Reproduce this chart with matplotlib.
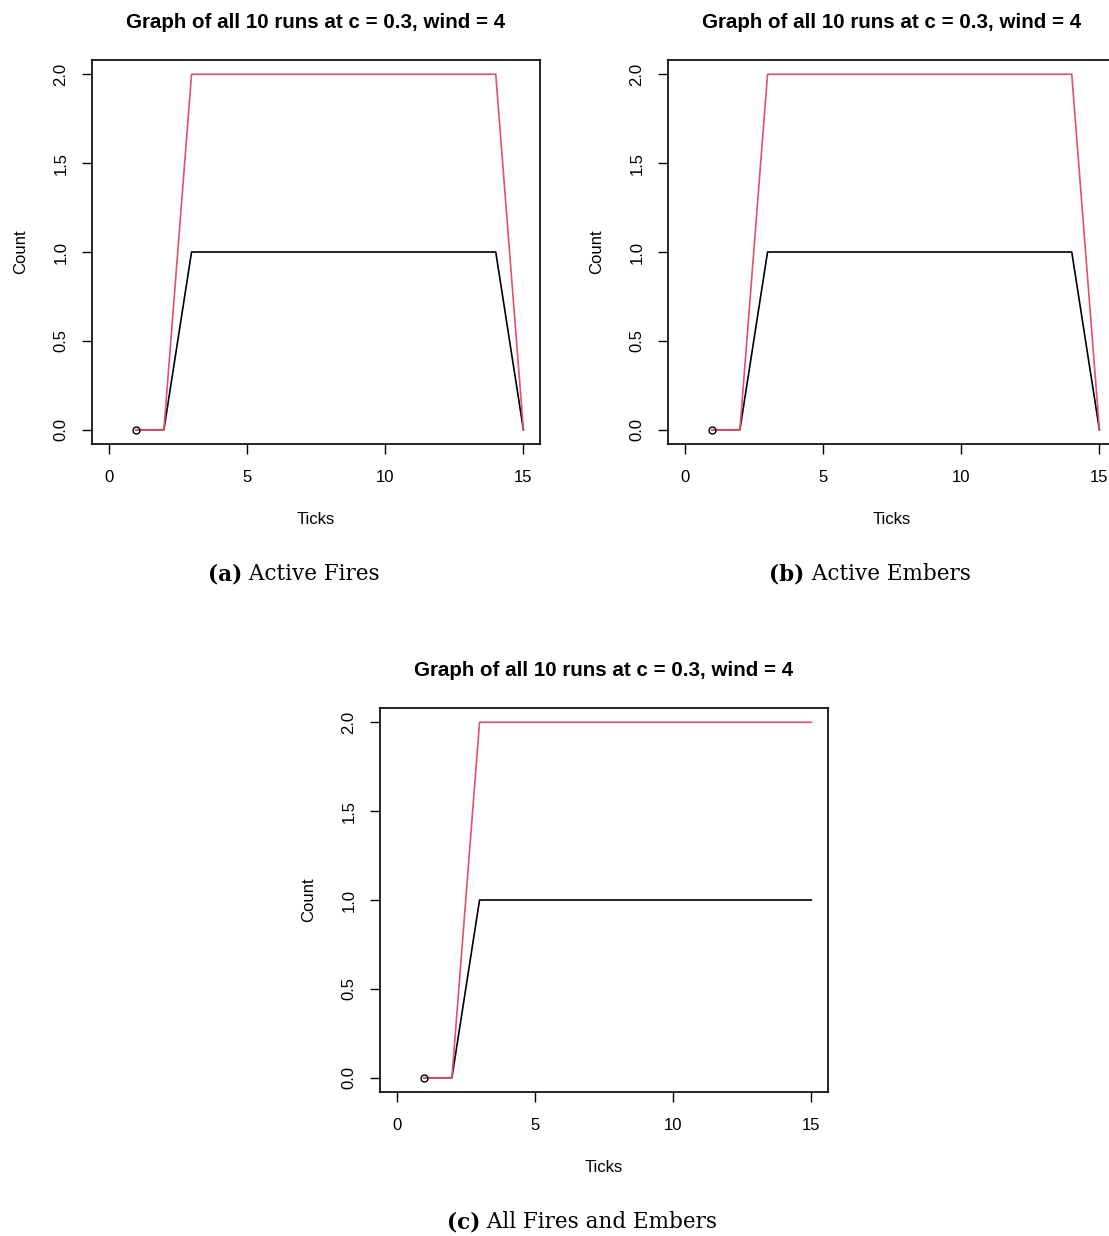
import matplotlib
matplotlib.use("Agg")
import matplotlib.pyplot as plt
from matplotlib.offsetbox import TextArea, HPacker, AnchoredOffsetbox

ticks = list(range(1, 16))
fires_black = [0, 0, 1, 1, 1, 1, 1, 1, 1, 1, 1, 1, 1, 1, 0]
fires_red = [0, 0, 2, 2, 2, 2, 2, 2, 2, 2, 2, 2, 2, 2, 0]
embers_black = [0, 0, 1, 1, 1, 1, 1, 1, 1, 1, 1, 1, 1, 1, 0]
embers_red = [0, 0, 2, 2, 2, 2, 2, 2, 2, 2, 2, 2, 2, 2, 0]
all_black = [0, 0, 1, 1, 1, 1, 1, 1, 1, 1, 1, 1, 1, 1, 1]
all_red = [0, 0, 2, 2, 2, 2, 2, 2, 2, 2, 2, 2, 2, 2, 2]
xticks = [0, 5, 10, 15]
yticks = [0.0, 0.5, 1.0, 1.5, 2.0]
ytick_labels = ["0.0", "0.5", "1.0", "1.5", "2.0"]
title = "Graph of all 10 runs at c = 0.3, wind = 4"
captions = [("(a)", "Active Fires"), ("(b)", "Active Embers"), ("(c)", "All Fires and Embers")]

W, H = 1109, 1236
fig = plt.figure(figsize=(W / 100, H / 100), dpi=100)
SANS = "Liberation Sans"
SERIF = "DejaVu Serif"
RED = "#DF536B"

def make_axes(left, top, right, bottom, black, red):
    ax = fig.add_axes([left / W, 1 - bottom / H, (right - left) / W, (bottom - top) / H])
    ax.plot(ticks, black, color="black", lw=1.2, zorder=2)
    ax.plot(ticks, red, color=RED, lw=1.2, zorder=3)
    ax.plot([ticks[0]], [black[0]], marker="o", mfc="none", mec="black", ms=5, mew=1.0, zorder=4)
    ax.set_xlim(-0.6, 15.6)
    ax.set_ylim(-0.08, 2.08)
    ax.set_xticks(xticks)
    ax.set_xticklabels([str(t) for t in xticks], fontsize=12, family=SANS)
    ax.set_yticks(yticks)
    ax.set_yticklabels(ytick_labels, fontsize=12, family=SANS, rotation=90, va="center")
    ax.tick_params(direction="out", length=7, width=1.0, pad=10)
    ax.tick_params(axis="x", pad=12)
    for s in ax.spines.values():
        s.set_linewidth(1.2)
    ax.set_title(title, fontsize=14.8, fontweight="bold", family=SANS, pad=23)
    ax.set_xlabel("Ticks", fontsize=12, family=SANS, labelpad=19)
    ax.set_ylabel("Count", fontsize=12, family=SANS, labelpad=18)
    return ax

make_axes(92, 60, 540, 444, fires_black, fires_red)
make_axes(668, 60, 1116, 444, embers_black, embers_red)
make_axes(380, 708, 828, 1092, all_black, all_red)

def caption(cx, cy, lab, txt):
    a = TextArea(lab, textprops=dict(fontsize=15.5, family=SERIF, fontweight="bold"))
    b = TextArea(" " + txt, textprops=dict(fontsize=15.5, family=SERIF))
    box = HPacker(children=[a, b], align="baseline", pad=0, sep=0)
    ab = AnchoredOffsetbox(loc="center", child=box, frameon=False,
                           bbox_to_anchor=(cx / W, 1 - cy / H), bbox_transform=fig.transFigure,
                           pad=0, borderpad=0)
    fig.add_artist(ab)

caption(294, 574, *captions[0])
caption(870, 574, *captions[1])
caption(582, 1222, *captions[2])

fig.savefig("out.png", dpi=100)
